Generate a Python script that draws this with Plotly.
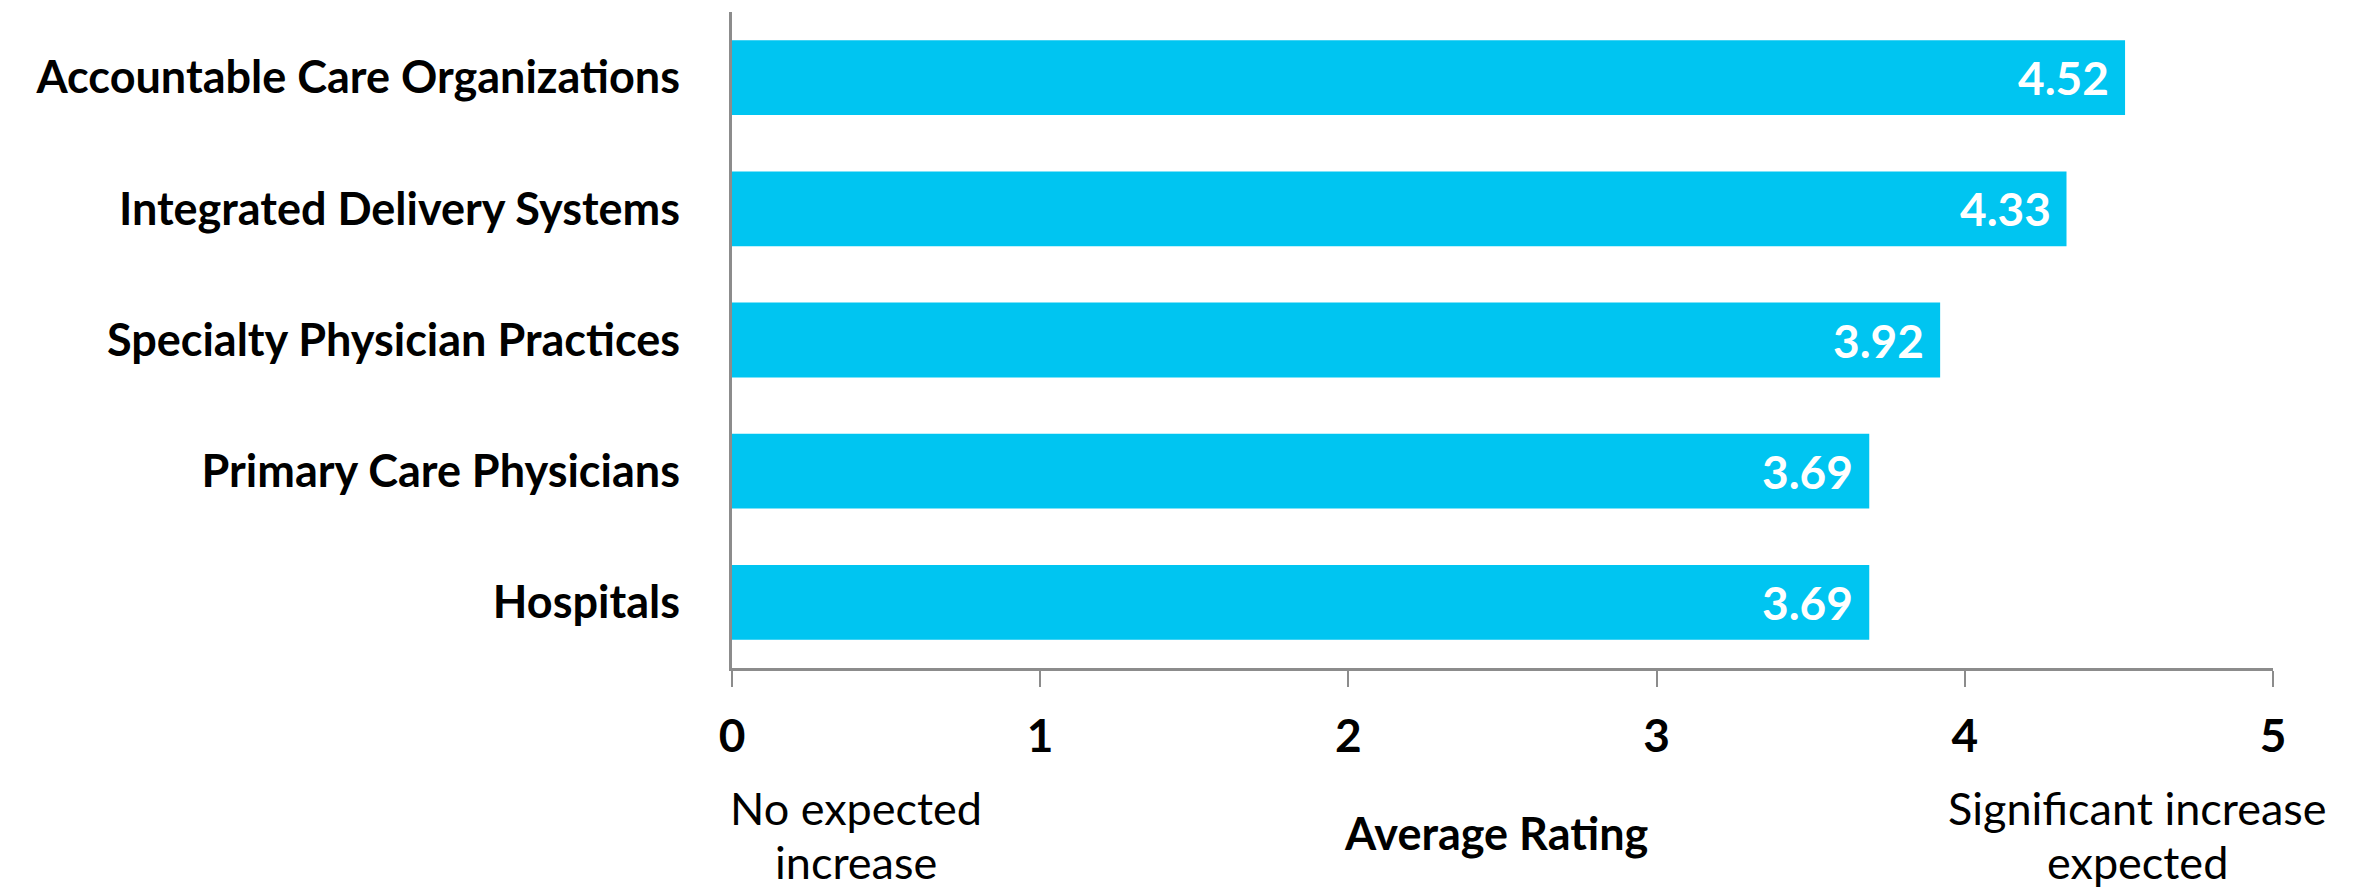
import plotly.graph_objects as go

categories = ["Accountable Care Organizations", "Integrated Delivery Systems",
              "Specialty Physician Practices", "Primary Care Physicians", "Hospitals"]
values = [4.52, 4.33, 3.92, 3.69, 3.69]
x_ticks = [0, 1, 2, 3, 4, 5]
x_title = "Average Rating"
low_note = ["No expected", "increase"]
high_note = ["Significant increase", "expected"]

FONT = "Lato"
BAR = "#00C5F1"
AXIS = "#8C8C8C"

fig = go.Figure()
fig.add_trace(go.Bar(
    x=values, y=categories, orientation="h",
    marker=dict(color=BAR, line=dict(width=0)),
    width=0.57, hoverinfo="skip",
))

for v, c in zip(values, categories):
    fig.add_annotation(x=v, y=c, xref="x", yref="y", text=f"<b>{v:.2f}</b>",
                       showarrow=False, xanchor="right", xshift=-14,
                       font=dict(family=FONT, size=46, color="white"))

# axis notes
x0, x1 = 732, 2273
def px(xpix):
    return (xpix - x0) / (x1 - x0)
def py(ypix):
    return (668 - ypix) / (668 - 12)

for i, line in enumerate(low_note):
    fig.add_annotation(x=px(856), y=py(808 + 54 * i), xref="paper", yref="paper",
                       text=line, showarrow=False, xanchor="center", yanchor="middle",
                       borderpad=0, font=dict(family=FONT, size=45, color="black"))
for i, line in enumerate(high_note):
    fig.add_annotation(x=px(2137), y=py(808 + 54 * i), xref="paper", yref="paper",
                       text=line, showarrow=False, xanchor="center", yanchor="middle",
                       borderpad=0, font=dict(family=FONT, size=45, color="black"))
fig.add_annotation(x=px(1496), y=py(833), xref="paper", yref="paper",
                   text=f"<b>{x_title}</b>", showarrow=False, xanchor="center", yanchor="middle",
                   font=dict(family=FONT, size=45, color="black"))

fig.update_layout(
    width=2363, height=893, autosize=False,
    margin=dict(l=732, r=90, t=12, b=225),
    plot_bgcolor="white", paper_bgcolor="white",
    showlegend=False, bargap=0.43,
    font=dict(family=FONT, color="black"),
)
fig.update_xaxes(
    range=[0, 5], tickvals=x_ticks, ticktext=[f"<b>{t}</b>" for t in x_ticks],
    showgrid=False, zeroline=False, showline=True, linecolor=AXIS, linewidth=3,
    ticks="outside", ticklen=16, tickcolor=AXIS, tickwidth=2,
    tickfont=dict(family=FONT, size=46, color="black"), ticklabelstandoff=10,
)
fig.update_yaxes(
    categoryorder="array", categoryarray=categories[::-1], range=[-0.5, 4.5],
    ticktext=[f"<b>{c}</b>" for c in categories[::-1]], tickvals=categories[::-1],
    showgrid=False, zeroline=False, showline=True, linecolor=AXIS, linewidth=3,
    ticks="", tickfont=dict(family=FONT, size=45, color="black"), ticklabelstandoff=40,
)

fig.write_html("out.html")
